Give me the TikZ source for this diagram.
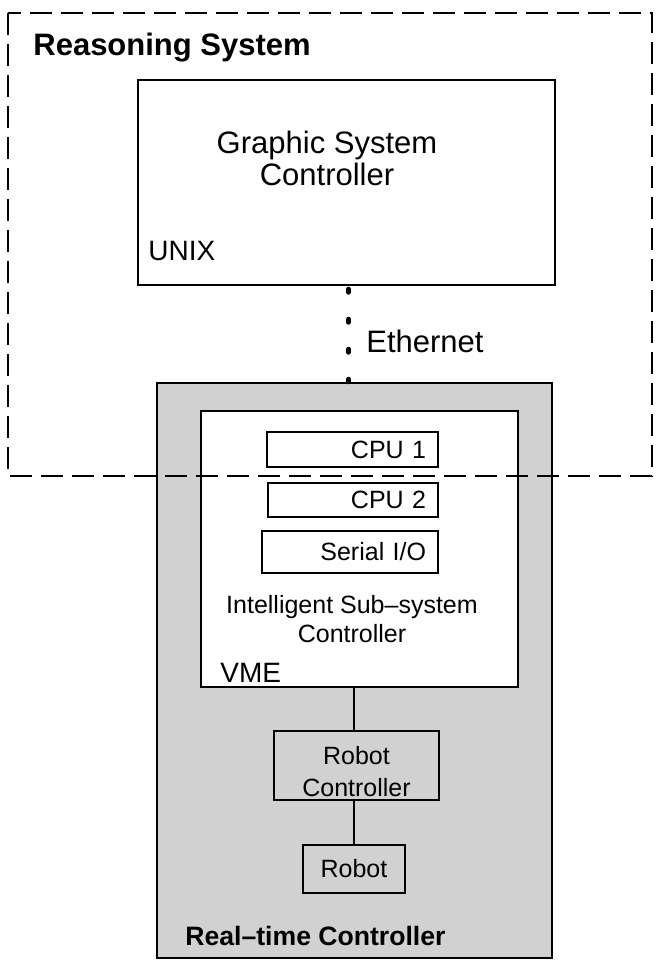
\documentclass[tikz,border=0pt]{standalone}
\usepackage{fontspec}
\setmainfont{Liberation Sans}

\begin{document}
\begin{tikzpicture}[x=0.5pt,y=-0.5pt,
  box/.style={draw,line width=1pt,inner sep=0pt},
  tag/.style={inner sep=0pt,anchor=base west},
  big/.style={font=\fontsize{15.5}{16}\selectfont},
  small/.style={font=\fontsize{12.5}{16}\selectfont},
  os/.style={font=\fontsize{14}{16}\selectfont},
  card/.style={box,small,align=right,inner xsep=6pt,inner ysep=0pt},
  ether/.style={line width=2.5pt,line cap=round,
    dash pattern=on 1.5pt off 13.5pt,dash phase=13.5pt}]
\useasboundingbox (0,0) rectangle (655,960);
\node[box,line width=1.2pt,minimum width=208.5pt,minimum height=102.5pt] (gsc) at (346.5,182.5) {};
\node[big,align=center,anchor=base] (gsc-txt) at (327,185) {Graphic System\\Controller};
\node[tag,os] (unix) at (148,260) {UNIX};
\node[tag,font=\bfseries\fontsize{15.5}{16}\selectfont] (rs) at (33,55) {Reasoning System};
\node[box,line width=1.2pt,fill=black!18,minimum width=197.5pt,minimum height=287.5pt] (rtc) at (354.5,670.5) {};
\node[box,fill=white,minimum width=158.5pt,minimum height=138pt] (iss) at (359.5,549) {};
\node[card,text width=73.5pt,minimum height=17.5pt] (cpu1) at (352.5,449.5) {CPU 1};
\node[card,text width=73pt,minimum height=17pt] (cpu2) at (353,500) {CPU 2};
\node[card,text width=76pt,minimum height=21pt] (sio) at (350,552) {Serial I/O};
\node[align=center,anchor=base,font=\fontsize{12.5}{14.5}\selectfont] (iss-txt) at (352,642) {Intelligent Sub--system\\Controller};
\node[tag,os] (vme) at (220,682) {VME};
\node[box,small,align=center,minimum width=82.5pt,minimum height=34.5pt,text height=31pt,text depth=0pt] (rc) at (356.5,765.5) {Robot\\Controller};
\node[box,small,minimum width=51pt,minimum height=24pt] (rob) at (354,869) {Robot};
\node[tag,font=\bfseries\fontsize{13.3}{15}\selectfont] (rtc-txt) at (185,945) {Real--time Controller};
\draw[line width=0.9pt] (iss.south -| rob.north) -- (rc.north -| rob.north);
\draw[line width=0.9pt] (rc.south -| rob.north) -- (rob.north);
\draw[ether] ([xshift=1pt]gsc.south) -- ([xshift=1pt]gsc.south |- rtc.north);
\node[tag,big] (eth) at (366,352) {Ethernet};
% reasoning system boundary
\draw[line width=1.3pt,dash pattern=on 11pt off 4.5pt] (8,13) rectangle (652,476);
\end{tikzpicture}
\end{document}
